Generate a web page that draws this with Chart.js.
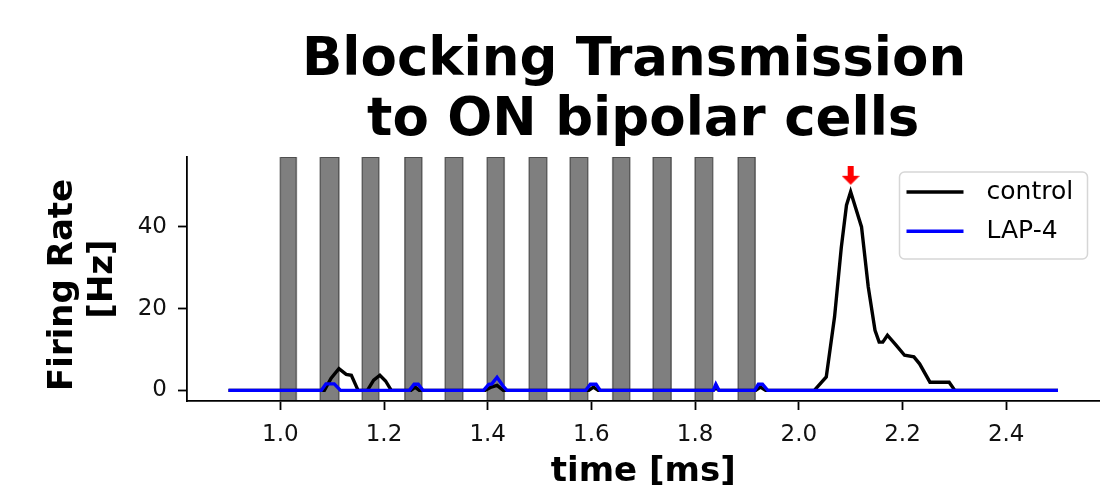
<!DOCTYPE html>
<html>
<head>
<meta charset="utf-8">
<script src="https://cdn.jsdelivr.net/npm/chart.js@4.4.0/dist/chart.umd.min.js"></script>
<style>
  html, body { margin: 0; padding: 0; background: white; }
  #wrap { width: 1101px; height: 490px; }
</style>
</head>
<body>
<div id="wrap"><canvas id="fr-chart" width="1101" height="490"></canvas></div>
<script>
// firing rate, control
const controlTime = [0.9, 1.085, 1.098, 1.113, 1.127, 1.137, 1.15, 1.168, 1.18, 1.192, 1.203, 1.214,
  1.252, 1.26, 1.268, 1.395, 1.407, 1.418, 1.43, 1.595, 1.604, 1.613, 1.835, 1.84, 1.846,
  1.917, 1.926, 1.936, 2.03, 2.053, 2.069, 2.082, 2.092, 2.1, 2.121, 2.134, 2.147, 2.155,
  2.162, 2.171, 2.188, 2.204, 2.222, 2.233, 2.253, 2.29, 2.301, 2.5];
const controlRate = [0, 0, 3.0, 5.3, 3.9, 3.7, 0, 0, 2.5, 3.7, 2.3, 0,
  0, 0.8, 0, 0, 0.8, 1.2, 0, 0, 0.8, 0, 0, 0.6, 0,
  0, 0.8, 0, 0, 3.3, 18, 35, 45.3, 48.6, 40, 25.3, 14.7, 11.8,
  11.8, 13.5, 11, 8.6, 8.2, 6.5, 2.0, 2.0, 0, 0];

// firing rate, LAP-4
const lapTime = [0.9, 1.079, 1.088, 1.104, 1.116, 1.249, 1.258, 1.266, 1.275,
  1.392, 1.402, 1.408, 1.418, 1.43, 1.437, 1.589, 1.598, 1.609, 1.617,
  1.835, 1.84, 1.846, 1.915, 1.922, 1.93, 1.94, 2.5];
const lapRate = [0, 0, 1.6, 1.6, 0, 0, 1.5, 1.5, 0,
  0, 1.5, 1.6, 3.2, 1.0, 0, 0, 1.5, 1.5, 0,
  0, 1.5, 0, 0, 1.5, 1.5, 0, 0];

// light flashes (gray bars)
const stimOn  = [1.0, 1.077, 1.158, 1.24, 1.318, 1.399, 1.48, 1.559, 1.641, 1.719, 1.8, 1.883];
const stimOff = [1.031, 1.113, 1.19, 1.273, 1.352, 1.432, 1.514, 1.593, 1.674, 1.754, 1.834, 1.916];

// red arrow over the peak
const peakTime = [2.1];
const peakMark = [52.5];

const xTicks = [1.0, 1.2, 1.4, 1.6, 1.8, 2.0, 2.2, 2.4];
const yTicks = [0, 20, 40];
const xMin = 0.82, xMax = 2.58;
const yMin = -2.6, yMax = 57.1;

const FONT = '"DejaVu Sans", "Liberation Sans", sans-serif';

const toPoints = (xs, ys) => xs.map((x, i) => ({x: x, y: ys[i]}));

// small red down-arrow used as point style
const arrowImg = document.createElement('canvas');
arrowImg.width = 18;
arrowImg.height = 20;
{
  const g = arrowImg.getContext('2d');
  g.fillStyle = '#ff0000';
  g.fillRect(6, 0, 6, 11);
  g.beginPath();
  g.moveTo(0, 10);
  g.lineTo(18, 10);
  g.lineTo(9, 19);
  g.closePath();
  g.fill();
}

const datasets = [];
datasets.push({
  label: 'peak',
  data: toPoints(peakTime, peakMark),
  showLine: false,
  pointStyle: arrowImg,
  pointRadius: 10,
  order: 0
});
datasets.push({
  label: 'LAP-4',
  inLegend: true,
  data: toPoints(lapTime, lapRate),
  showLine: true,
  borderColor: '#0000ff',
  borderWidth: 3.4,
  pointRadius: 0,
  tension: 0,
  order: 1
});
datasets.push({
  label: 'control',
  inLegend: true,
  data: toPoints(controlTime, controlRate),
  showLine: true,
  borderColor: '#000000',
  borderWidth: 3.4,
  pointRadius: 0,
  tension: 0,
  order: 2
});
for (let i = 0; i < stimOn.length; i++) {
  datasets.push({
    label: 'flash ' + (i + 1),
    data: [{x: stimOn[i], y: yMin}, {x: stimOn[i], y: yMax}, {x: stimOff[i], y: yMax}, {x: stimOff[i], y: yMin}],
    showLine: true,
    fill: {value: yMin},
    backgroundColor: 'rgba(0,0,0,0.5)',
    borderColor: 'rgba(0,0,0,0.5)',
    borderWidth: 1.5,
    pointRadius: 0,
    order: 3
  });
}

// matplotlib-like legend box inside the axes
const legendBox = {
  id: 'legendBox',
  afterDatasetsDraw(chart) {
    const {ctx, chartArea} = chart;
    const w = 188, h = 87;
    const x0 = chartArea.right - 12 - w;
    const y0 = chartArea.top + 15;
    ctx.save();
    ctx.beginPath();
    ctx.roundRect(x0, y0, w, h, 5);
    ctx.fillStyle = 'rgba(255,255,255,0.8)';
    ctx.fill();
    ctx.strokeStyle = '#d6d6d6';
    ctx.lineWidth = 1.5;
    ctx.stroke();
    const entries = chart.data.datasets.filter(d => d.inLegend).reverse();
    entries.forEach((d, i) => {
      const y = y0 + 20 + i * 39.3;
      ctx.beginPath();
      ctx.moveTo(x0 + 7, y);
      ctx.lineTo(x0 + 64, y);
      ctx.strokeStyle = d.borderColor;
      ctx.lineWidth = 3.4;
      ctx.stroke();
      ctx.fillStyle = '#000';
      ctx.font = '25px ' + FONT;
      ctx.textBaseline = 'middle';
      ctx.textAlign = 'left';
      ctx.fillText(d.label, x0 + 87, y);
    });
    ctx.restore();
  }
};

const axisCommon = {
  type: 'linear',
  grid: {display: true, drawOnChartArea: false, drawTicks: true, tickLength: 9, tickWidth: 1.8, tickColor: '#000'},
  border: {display: true, color: '#000', width: 1.8}
};

new Chart(document.getElementById('fr-chart').getContext('2d'), {
  type: 'scatter',
  data: {datasets: datasets},
  options: {
    responsive: false,
    animation: false,
    devicePixelRatio: 1,
    layout: {autoPadding: false, padding: {top: 31, left: 0, right: 1.5, bottom: 0}},
    plugins: {
      legend: {display: false},
      tooltip: {enabled: false},
      title: {
        display: true,
        fullSize: false,
        text: ['Blocking Transmission ', 'to ON bipolar cells'],
        color: '#000',
        font: {family: FONT, size: 53, weight: 'bold', lineHeight: 60 / 53},
        padding: {top: 0, bottom: 6}
      }
    },
    scales: {
      x: Object.assign({}, axisCommon, {
        min: xMin,
        max: xMax,
        afterBuildTicks: s => { s.ticks = xTicks.map(v => ({value: v})); },
        afterFit: s => { s.height = 89; s.paddingLeft = 0; s.paddingRight = 0; },
        ticks: {
          color: '#111',
          padding: 11,
          font: {family: FONT, size: 23},
          callback: v => v.toFixed(1)
        },
        title: {
          display: true,
          text: 'time [ms]',
          color: '#000',
          font: {family: FONT, size: 34, weight: 'bold', lineHeight: 1.0},
          padding: {top: 0, bottom: 1}
        }
      }),
      y: Object.assign({}, axisCommon, {
        min: yMin,
        max: yMax,
        afterBuildTicks: s => { s.ticks = yTicks.map(v => ({value: v})); },
        afterFit: s => { s.width = 187; s.paddingTop = 0; s.paddingBottom = 0; },
        ticks: {
          color: '#111',
          padding: 11,
          font: {family: FONT, size: 23},
          callback: v => String(v)
        },
        title: {
          display: true,
          text: ['Firing Rate ', '[Hz]'],
          color: '#000',
          font: {family: FONT, size: 34, weight: 'bold', lineHeight: 40 / 34},
          padding: {top: 43, bottom: 0}
        }
      })
    }
  },
  plugins: [legendBox]
});
</script>
</body>
</html>
